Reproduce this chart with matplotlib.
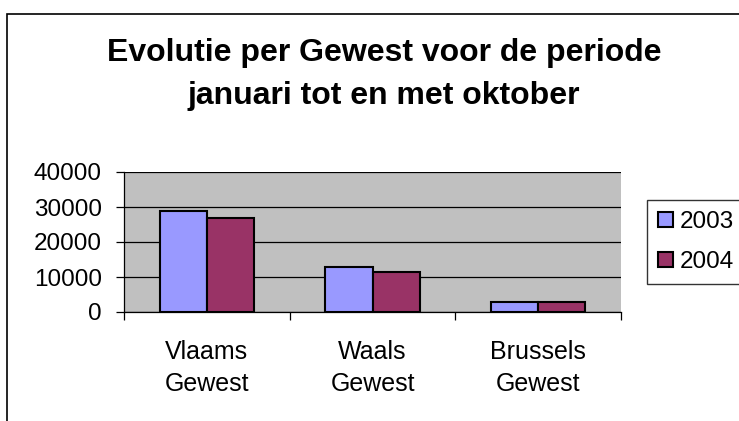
import matplotlib
matplotlib.use("Agg")
import matplotlib.pyplot as plt
import numpy as np
from matplotlib.patches import Rectangle

categories = ["Vlaams\nGewest", "Waals\nGewest", "Brussels\nGewest"]
series_names = ["2003", "2004"]
values_2003 = [29000, 13000, 2900]
values_2004 = [26800, 11400, 2800]
yticks = [0, 10000, 20000, 30000, 40000]

plt.rcParams['font.family'] = ['Liberation Sans', 'DejaVu Sans']

W, H = 739, 421
fig = plt.figure(figsize=(W / 100, H / 100), dpi=100)

# outer chart border
fig.patches.append(Rectangle((7 / W, -0.1), 1.2, (H - 14) / H + 0.1,
                             transform=fig.transFigure, fill=False,
                             edgecolor='black', linewidth=1.2))

ax = fig.add_axes([124 / W, (H - 312) / H, (621 - 124) / W, (312 - 172) / H])
ax.set_facecolor('#C0C0C0')

x = np.arange(len(categories))
bw = 1 / 3.5
ax.bar(x - bw / 2, values_2003, bw, color='#9999FF', edgecolor='black',
       linewidth=1.5, label=series_names[0], zorder=3)
ax.bar(x + bw / 2, values_2004, bw, color='#993366', edgecolor='black',
       linewidth=1.5, label=series_names[1], zorder=3)

ax.set_xlim(-0.5, len(categories) - 0.5)
ax.set_ylim(0, 40000)
ax.set_yticks(yticks)
ax.set_yticklabels([str(v) for v in yticks], fontsize=17.5)
ax.yaxis.grid(True, color='black', linewidth=0.9, zorder=1)
ax.set_axisbelow(True)

ax.set_xticks(x)
ax.set_xticklabels(categories, fontsize=18, linespacing=1.45)
ax.tick_params(axis='x', length=0, pad=20)
ax.set_xticks(np.arange(len(categories) + 1) - 0.5, minor=True)
ax.tick_params(axis='x', which='minor', length=6, width=0.9, direction='out')
ax.tick_params(axis='y', length=6, width=0.9, direction='out', pad=10)

for s in ['top', 'right']:
    ax.spines[s].set_visible(False)
for s in ['left', 'bottom']:
    ax.spines[s].set_color('black')
    ax.spines[s].set_linewidth(0.9)

fig.text(384 / W, 1 - 53 / H, "Evolutie per Gewest voor de periode",
         ha='center', va='center', fontsize=23, fontweight='bold')
fig.text(384 / W, 1 - 96 / H, "januari tot en met oktober",
         ha='center', va='center', fontsize=23, fontweight='bold')

leg = fig.legend(loc='upper left', bbox_to_anchor=(647 / W, 1 - 200 / H),
                 fontsize=17.5, frameon=True, fancybox=False,
                 handlelength=0.6, handleheight=0.6, handletextpad=0.3,
                 labelspacing=0.75, borderpad=0.45, borderaxespad=0)
leg.get_frame().set_edgecolor('black')
leg.get_frame().set_linewidth(1.0)

fig.savefig("out.png", dpi=100)
